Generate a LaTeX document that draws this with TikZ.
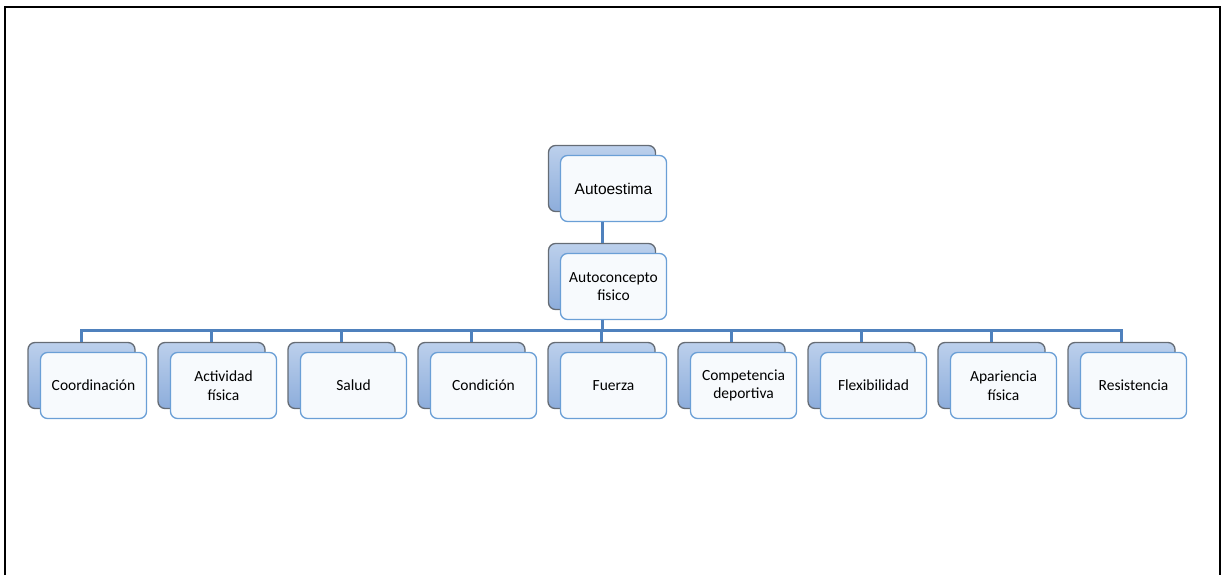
\documentclass[tikz,border=0pt]{standalone}
\usepackage{fontspec}
\setmainfont{Carlito}
\newfontfamily\arialfont{Liberation Sans}
\usetikzlibrary{calc}
\definecolor{backtop}{HTML}{BCD0EC}
\definecolor{backbot}{HTML}{8DADDB}
\definecolor{backline}{HTML}{656C75}
\definecolor{frontline}{HTML}{6A9FD6}
\definecolor{frontfill}{HTML}{F7FAFD}
\definecolor{linkblue}{HTML}{4F81BD}

\begin{document}
\begin{tikzpicture}
      [
        x=1pt, y=-1pt,
        back/.style={draw=backline, line width=1.3pt, rounded corners=7pt,
          top color=backtop, bottom color=backbot,
          minimum width=107pt, minimum height=66pt, inner sep=0pt},
        front/.style={draw=frontline, line width=1.3pt, fill=frontfill, rounded corners=7pt,
          minimum width=106pt, minimum height=66pt, inner sep=0pt, align=center,
          font=\fontsize{15.5}{18.5}\selectfont},
        link/.style={draw=linkblue, line width=3pt}
      ]
      \useasboundingbox (0,0) rectangle (1222,575);
      % frame
      \draw [line width=2.2pt] (5,575) -- (5,7) -- (1220,7) -- (1220,575);
      % top boxes
      \node [back] (aeb) at (602,178.5) {};
      \node [front, font=\arialfont\fontsize{15.5}{18.5}\selectfont] (aef) at (613.5,188.5) {Autoestima};
      \node [back] (acb) at (602,276.5) {};
      \node [front] (acf) at (613.5,286.5) {Autoconcepto\\fisico};
      % bottom row
      \foreach \i/\txt in {0/Coordinación,1/{Actividad\\física},2/Salud,3/Condición,4/Fuerza,
          5/{Competencia\\deportiva},6/Flexibilidad,7/{Apariencia\\física},8/Resistencia} {
          \node [back] (b\i) at ({81.5+130*\i},375.5) {};
          \node [front] (f\i) at ({93.5+130*\i},385.5) {\txt};
      }
      % edges
      \coordinate (bus) at ($(acb.center)+(0,53.5)$);
      \draw [link] (aef.south -| aeb.center) -- (acb.north);
      \draw [link] (acf.south -| acb.center) -- (bus);
      \foreach \i in {0,...,8} {
          \draw [link] (bus) -| (b\i.north);
      }
    \end{tikzpicture}
\end{document}
